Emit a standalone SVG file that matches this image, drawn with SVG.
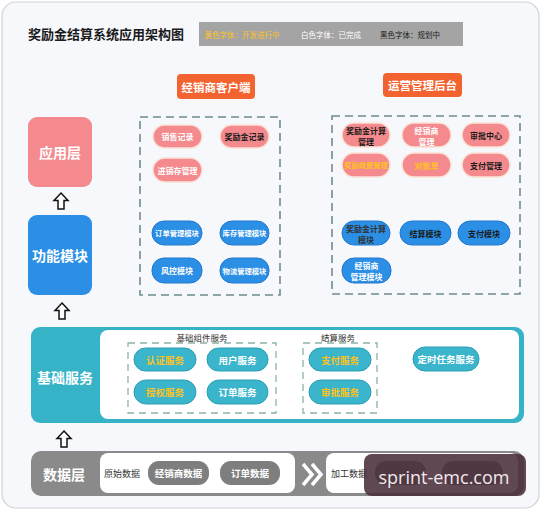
<svg xmlns="http://www.w3.org/2000/svg" width="541" height="511" viewBox="0 0 541 511">
<style>
text{font-family:"Noto Sans CJK SC","Noto Sans",sans-serif;text-anchor:middle;dominant-baseline:central}
.pink{fill:#f48a8e;stroke:#fbe2d6;stroke-width:1.5}
.blue{fill:#2b8fe6;stroke:#2379cc;stroke-width:1}
.teal{fill:#3ab5cc;stroke:#2a9fb6;stroke-width:1}
.gp{fill:#7e7e7e}
.dash{fill:none;stroke:#6f8c8e;stroke-width:1.6;stroke-dasharray:8 5}
.dash2{fill:none;stroke:#8cb3a6;stroke-width:1.3;stroke-dasharray:7 5}
.t{font-size:8px;font-weight:700}
.t6{font-size:7.3px;font-weight:700}
.ts{font-size:9.5px;font-weight:700}
.w{fill:#fff}.k{fill:#1a1a1a}.y{fill:#ffc21c}
.big{font-size:14px;font-weight:700;fill:#fff}
.arrow{fill:#fff;stroke:#111;stroke-width:1.5;stroke-linejoin:miter}
</style>
<defs>
<path id="up" d="M0 -8 L7 -0.5 L3 -0.5 L3 8 L-3 8 L-3 -0.5 L-7 -0.5 Z"/>
</defs>
<rect x="2" y="2" width="537" height="506" rx="14" fill="#f7f8fc" stroke="#cfd2d8" stroke-width="1.2"/>
<g id="title">
<text x="106" y="33" style="font-size:13px;font-weight:700;fill:#1a1a1a">奖励金结算系统应用架构图</text>
</g>
<g id="legend">
<rect x="199" y="22" width="264" height="24" fill="#a4a4a4"/>
<text x="242" y="34" style="font-size:7.5px;fill:#ffc21c">黄色字体：开发进行中</text>
<text x="331" y="34" style="font-size:7.5px;fill:#fff">白色字体：已完成</text>
<text x="410" y="34" style="font-size:7.5px;fill:#1a1a1a">黑色字体：规划中</text>
</g>
<g id="client-header">
<rect x="177" y="74" width="78" height="25" rx="4" fill="#f2632f"/>
<text x="216" y="86.5" style="font-size:11.5px;font-weight:700;fill:#fff">经销商客户端</text>
</g>
<g id="ops-header">
<rect x="383" y="73" width="79" height="24" rx="4" fill="#f2632f"/>
<text x="422.5" y="85" style="font-size:11.5px;font-weight:700;fill:#fff">运营管理后台</text>
</g>
<g id="layer-app">
<rect x="28" y="117" width="64" height="70" rx="9" fill="#f48a8e"/>
<text x="60" y="152" class="big">应用层</text>
</g>
<g id="layer-func">
<rect x="28" y="215" width="64" height="80" rx="9" fill="#2b8fe6"/>
<text x="60" y="255" class="big">功能模块</text>
</g>
<g id="connectors">
<use href="#up" x="61" y="201" class="arrow"/>
<use href="#up" x="62" y="311" class="arrow"/>
<use href="#up" x="64" y="439" class="arrow"/>
</g>
<g id="client">
<rect x="140" y="117" width="140" height="178" class="dash"/>
<rect x="153" y="125" width="49" height="23" rx="11.5" class="pink"/><text x="177.5" y="136.5" class="t w">销售记录</text>
<rect x="220" y="125" width="49" height="23" rx="11.5" class="pink"/><text x="244.5" y="136.5" class="t k">奖励金记录</text>
<rect x="153" y="158" width="49" height="24" rx="12" class="pink"/><text x="177.5" y="170" class="t w">进销存管理</text>
<rect x="152" y="221" width="50" height="24" rx="12" class="blue"/><text x="177" y="233" class="t6 w">订单管理模块</text>
<rect x="220" y="221" width="49" height="24" rx="12" class="blue"/><text x="244.5" y="233" class="t6 w">库存管理模块</text>
<rect x="152" y="258" width="50" height="25" rx="12" class="blue"/><text x="177" y="270.5" class="t w">风控模块</text>
<rect x="220" y="258" width="49" height="25" rx="12" class="blue"/><text x="244.5" y="270.5" class="t6 w">物流管理模块</text>
</g>
<g id="ops">
<rect x="332" y="116" width="188" height="178" class="dash"/>
<rect x="342" y="123" width="48" height="24" rx="12" class="pink"/><text x="366" y="130" class="t k">奖励金计算</text><text x="366" y="141" class="t k">管理</text>
<rect x="402" y="123" width="49" height="24" rx="12" class="pink"/><text x="426.5" y="130" class="t w">经销商</text><text x="426.5" y="141" class="t w">管理</text>
<rect x="462" y="123" width="48" height="24" rx="12" class="pink"/><text x="486" y="135" class="t k">审批中心</text>
<rect x="342" y="153" width="48" height="24" rx="12" class="pink"/><text x="366" y="165" class="t6 y">奖励政策管理</text>
<rect x="402" y="153" width="49" height="24" rx="12" class="pink"/><text x="426.5" y="165" class="t y">对账单</text>
<rect x="462" y="153" width="48" height="24" rx="12" class="pink"/><text x="486" y="165" class="t k">支付管理</text>
<rect x="342" y="221" width="48" height="24" rx="12" class="blue"/><text x="366" y="228" class="t" style="fill:#333">奖励金计算</text><text x="366" y="239" class="t" style="fill:#333">模块</text>
<rect x="400" y="221" width="51" height="24" rx="12" class="blue"/><text x="425.5" y="233" class="t k">结算模块</text>
<rect x="458" y="221" width="52" height="24" rx="12" class="blue"/><text x="484" y="233" class="t k">支付模块</text>
<rect x="342" y="258" width="49" height="25" rx="12" class="blue"/><text x="366.5" y="265" class="t w">经销商</text><text x="366.5" y="276" class="t w">管理模块</text>
</g>
<g id="layer-base">
<rect x="31" y="327" width="493" height="96" rx="9" fill="#37b3c7"/>
<rect x="100" y="330" width="419" height="89" rx="8" fill="#fff"/>
<text x="65" y="377" class="big">基础服务</text>
<text x="202" y="337" style="font-size:8.5px;fill:#333">基础组件服务</text>
<text x="338" y="337" style="font-size:8.5px;fill:#333">结算服务</text>
<rect x="128" y="343" width="148" height="70" class="dash2"/>
<rect x="303" y="343" width="74" height="70" class="dash2"/>
<rect x="134" y="348" width="62" height="23" rx="11.5" class="teal"/><text x="165" y="359.5" class="ts y">认证服务</text>
<rect x="207" y="348" width="61" height="23" rx="11.5" class="teal"/><text x="237.5" y="359.5" class="ts w">用户服务</text>
<rect x="134" y="380" width="62" height="24" rx="12" class="teal"/><text x="165" y="392" class="ts y">授权服务</text>
<rect x="207" y="380" width="61" height="24" rx="12" class="teal"/><text x="237.5" y="392" class="ts w">订单服务</text>
<rect x="309" y="348" width="62" height="23" rx="11.5" class="teal"/><text x="340" y="359.5" class="ts y">支付服务</text>
<rect x="309" y="380" width="62" height="24" rx="12" class="teal"/><text x="340" y="392" class="ts y">审批服务</text>
<rect x="413" y="347" width="66" height="24" rx="12" class="teal"/><text x="446" y="359" class="ts w">定时任务服务</text>
</g>
<g id="layer-data">
<rect x="31" y="451" width="493" height="45" rx="10" fill="#8a8a8a"/>
<text x="64" y="474" class="big">数据层</text>
<rect x="100" y="453" width="195" height="40" rx="8" fill="#fff"/>
<text x="122" y="473" style="font-size:9px;fill:#333">原始数据</text>
<rect x="148" y="461" width="61" height="24" rx="11" class="gp"/><text x="178.5" y="473" class="ts w">经销商数据</text>
<rect x="220" y="461" width="60" height="24" rx="11" class="gp"/><text x="250" y="473" class="ts w">订单数据</text>
<path d="M303 464 L312 474.5 L303 485 M312 464 L321 474.5 L312 485" fill="none" stroke="#fff" stroke-width="3.5"/>
<rect x="326" y="453" width="192" height="40" rx="8" fill="#fff"/>
<text x="349" y="473" style="font-size:9px;fill:#333">加工数据</text>
<rect x="375" y="461" width="51" height="24" rx="11" class="gp"/>
<rect x="442" y="461" width="61" height="24" rx="11" class="gp"/>
</g>
<g id="watermark">
<rect x="364" y="454" width="162" height="42" rx="8" fill="#4a2f3b" fill-opacity="0.88"/>
<text x="444" y="477" style="font-family:'Open Sans','Noto Sans',sans-serif;font-size:18px;fill:#f2e8ec">sprint-emc.com</text>
</g>
</svg>
